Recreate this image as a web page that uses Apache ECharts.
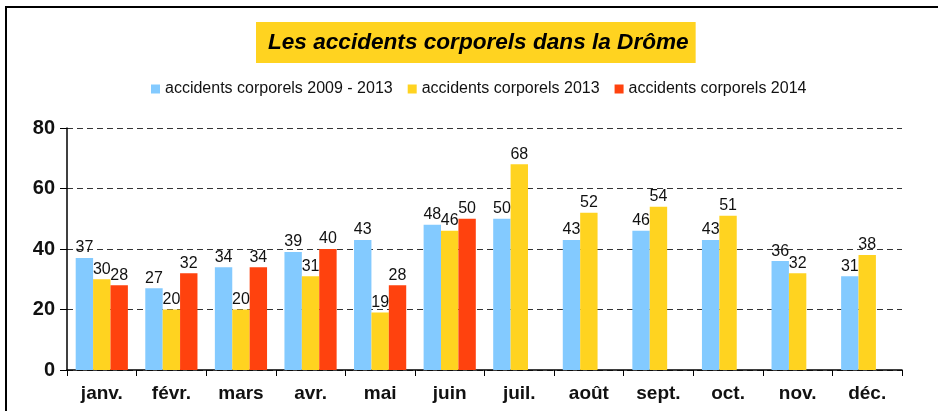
<!DOCTYPE html>
<html>
<head>
<meta charset="utf-8">
<script src="https://cdn.jsdelivr.net/npm/echarts@6/dist/echarts.min.js"></script>
<style>
  html, body { margin: 0; padding: 0; background: #fff; }
  #chart { width: 938px; height: 411px; }
</style>
</head>
<body>
<div id="chart"></div>
<script>
// données
const months = ["janv.", "févr.", "mars", "avr.", "mai", "juin", "juil.", "août", "sept.", "oct.", "nov.", "déc."];
const moyenne0913 = [37, 27, 34, 39, 43, 48, 50, 43, 46, 43, 36, 31];
const annee2013 = [30, 20, 20, 31, 19, 46, 68, 52, 54, 51, 32, 38];
const annee2014 = [28, 32, 34, 40, 28, 50, null, null, null, null, null, null];
const yTicks = [0, 20, 40, 60, 80];

const labelStyle = {
  show: true,
  position: "top",
  distance: 2,
  fontSize: 16,
  color: "#111",
  fontFamily: "Liberation Sans",
};

const chart = echarts.init(document.getElementById("chart"));
chart.setOption({
  animation: false,
  textStyle: { fontFamily: "Liberation Sans" },
  color: ["#83CAFF", "#FFD320", "#FF420E"],
  // cadre noir autour du graphique
  graphic: [
    {
      type: "rect",
      shape: { x: 6, y: 7, width: 960, height: 440 },
      style: { fill: "none", stroke: "#000", lineWidth: 2 },
      silent: true,
    },
  ],
  title: {
    text: "Les accidents corporels dans la Drôme",
    left: 256,
    top: 22,
    padding: [9, 7, 9, 12],
    backgroundColor: "#FFD320",
    textStyle: {
      fontFamily: "Liberation Sans",
      fontSize: 22.6,
      fontStyle: "italic",
      fontWeight: "bold",
      color: "#000",
    },
  },
  legend: {
    top: 76,
    left: 146,
    icon: "rect",
    itemWidth: 9,
    itemHeight: 9,
    itemGap: 15,
    textStyle: { fontSize: 16, color: "#111", fontFamily: "Liberation Sans" },
  },
  grid: { left: 67, right: 36, top: 128, bottom: 41 },
  xAxis: {
    type: "category",
    data: months,
    axisLine: { lineStyle: { color: "#000", width: 1.5 } },
    axisTick: { show: true, length: 6, lineStyle: { color: "#000" } },
    axisLabel: {
      fontSize: 19,
      fontWeight: "bold",
      color: "#111",
      margin: 14,
    },
  },
  yAxis: {
    type: "value",
    min: 0,
    max: 80,
    interval: 20,
    axisLine: { show: true, lineStyle: { color: "#000", width: 1.5 } },
    axisTick: { show: true, length: 7, lineStyle: { color: "#000" } },
    axisLabel: {
      fontSize: 20,
      fontWeight: "bold",
      color: "#111",
      margin: 12,
      formatter: (v) => (yTicks.includes(v) ? String(v) : ""),
    },
    splitLine: {
      show: true,
      lineStyle: { color: "#333", type: [6, 4], width: 1 },
    },
  },
  series: [
    {
      name: "accidents corporels 2009 - 2013",
      type: "bar",
      data: moyenne0913,
      barGap: "0%",
      barCategoryGap: "25%",
      label: labelStyle,
    },
    {
      name: "accidents corporels 2013",
      type: "bar",
      data: annee2013,
      barGap: "0%",
      barCategoryGap: "25%",
      label: labelStyle,
    },
    {
      name: "accidents corporels 2014",
      type: "bar",
      data: annee2014,
      barGap: "0%",
      barCategoryGap: "25%",
      label: labelStyle,
    },
  ],
});
</script>
</body>
</html>
